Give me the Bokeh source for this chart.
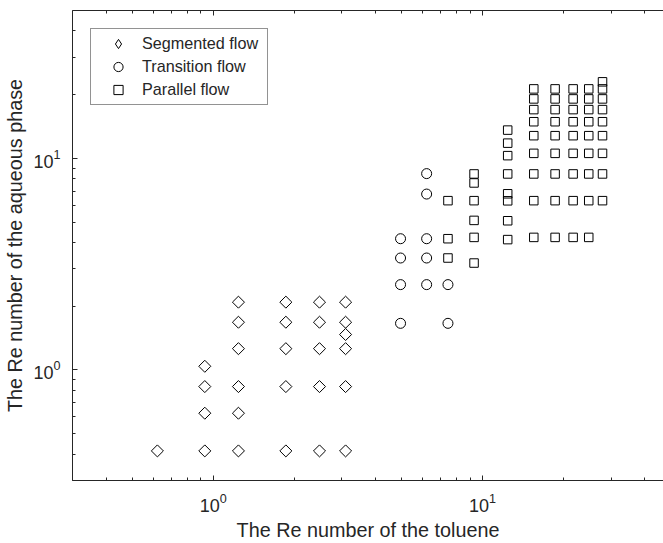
import numpy as np
from bokeh.plotting import figure
from bokeh.models import LogAxis, FixedTicker, LogTickFormatter, Legend, LegendItem, CustomJSTickFormatter
from bokeh.embed import file_html
from bokeh.resources import INLINE

# ---------------- data ----------------
# Segmented flow (diamonds)
seg_x = [0.62,
         0.93, 0.93, 0.93, 0.93,
         1.24, 1.24, 1.24, 1.24, 1.24, 1.24,
         1.86, 1.86, 1.86, 1.86, 1.86,
         2.48, 2.48, 2.48, 2.48, 2.48,
         3.1, 3.1, 3.1, 3.1, 3.1, 3.1]
seg_y = [0.414,
         0.414, 0.624, 0.834, 1.04,
         0.414, 0.624, 0.834, 1.26, 1.68, 2.09,
         0.414, 0.834, 1.26, 1.68, 2.09,
         0.414, 0.834, 1.26, 1.68, 2.09,
         0.414, 0.834, 1.26, 1.47, 1.68, 2.09]

# Transition flow (circles)
tra_x = [4.96, 4.96, 4.96, 4.96,
         6.2, 6.2, 6.2, 6.2, 6.2,
         7.44, 7.44]
tra_y = [1.66, 2.53, 3.38, 4.17,
         2.53, 3.38, 4.17, 6.78, 8.47,
         1.66, 2.53]

# Parallel flow (squares)
par_x = ([7.44] * 3 + [9.3] * 6 + [12.4] * 8
         + [15.5] * 9 + [18.6] * 9 + [21.7] * 9 + [24.8] * 9 + [27.9] * 9)
par_col_744 = [3.38, 4.17, 6.31]
par_col_93 = [3.2, 4.23, 5.09, 6.31, 7.65, 8.44]
par_col_124 = [4.13, 5.07, 6.3, 6.8, 8.44, 10.3, 11.8, 13.6]
par_col_mid = [4.23, 6.31, 8.44, 10.56, 12.8, 14.9, 17.0, 19.1, 21.3]
par_col_279 = [6.31, 8.44, 10.56, 12.8, 14.9, 17.0, 19.1, 21.3, 23.0]
par_y = par_col_744 + par_col_93 + par_col_124 + par_col_mid * 4 + par_col_279

labels = ["Segmented flow", "Transition flow", "Parallel flow"]
x_label = "The Re number of the toluene"
y_label = "The Re number of the aqueous phase"

major_ticks = [1, 10]
minor_ticks = [0.3, 0.4, 0.5, 0.6, 0.7, 0.8, 0.9,
               2, 3, 4, 5, 6, 7, 8, 9, 20, 30, 40]

# ---------------- figure ----------------
FONT = "Liberation Sans"
TXT = "#262626"

p = figure(width=663, height=543,
           x_axis_type="log", y_axis_type="log",
           x_range=(0.3, 47.0), y_range=(0.3, 50),
           output_backend="svg", toolbar_location=None,
           min_border_left=72, min_border_right=0,
           min_border_top=10, min_border_bottom=62)
p.grid.visible = False
p.outline_line_color = None
p.background_fill_color = "white"
p.border_fill_color = "white"

bottom = p.below[0]
left = p.left[0]
top = LogAxis()
p.add_layout(top, "above")

for ax in [bottom, left, top]:
    ax.ticker = FixedTicker(ticks=major_ticks, minor_ticks=minor_ticks)
    ax.axis_line_color = TXT
    ax.axis_line_width = 1
    ax.major_tick_in = 5
    ax.major_tick_out = 0
    ax.minor_tick_in = 3
    ax.minor_tick_out = 0
    ax.major_tick_line_color = TXT
    ax.minor_tick_line_color = TXT
    ax.major_label_text_font = FONT
    ax.major_label_text_font_size = "18px"
    ax.major_label_text_color = TXT
    ax.axis_label_text_font = FONT
    ax.axis_label_text_font_size = "19.8px"
    ax.axis_label_text_font_style = "normal"
    ax.axis_label_text_color = TXT

bottom.formatter = LogTickFormatter()
left.formatter = LogTickFormatter()
top.formatter = CustomJSTickFormatter(code="return ' '")
top.major_label_text_font_size = "1px"
top.major_label_text_alpha = 0
top.major_label_standoff = 0

bottom.axis_label = x_label
bottom.major_label_standoff = 12
bottom.axis_label_standoff = 4
left.axis_label = y_label
left.major_label_standoff = 12
left.axis_label_standoff = 4

r1 = p.scatter(seg_x, seg_y, marker="square", angle=np.pi / 4, size=8.5,
               fill_color=None, line_color="black", line_width=1)
r2 = p.scatter(tra_x, tra_y, marker="circle", size=10,
               fill_color=None, line_color="black", line_width=1)
r3 = p.scatter(par_x, par_y, marker="square", size=8.5,
               fill_color=None, line_color="black", line_width=1)
# legend sample for the diamonds (legend glyphs ignore marker angle)
r1_key = p.scatter([np.nan], [np.nan], marker="diamond", size=13,
                   fill_color=None, line_color="black", line_width=1)

legend = Legend(items=[LegendItem(label=labels[0], renderers=[r1_key]),
                       LegendItem(label=labels[1], renderers=[r2]),
                       LegendItem(label=labels[2], renderers=[r3])],
                location="top_left", margin=18, padding=3, spacing=0,
                label_height=23, glyph_height=23, glyph_width=48,
                label_standoff=0, label_width=122,
                label_text_font=FONT, label_text_font_size="16.2px",
                label_text_color=TXT,
                border_line_color=TXT, border_line_width=1,
                background_fill_color="white", background_fill_alpha=1.0)
p.add_layout(legend)

open("out.html", "w").write(file_html(p, INLINE))
